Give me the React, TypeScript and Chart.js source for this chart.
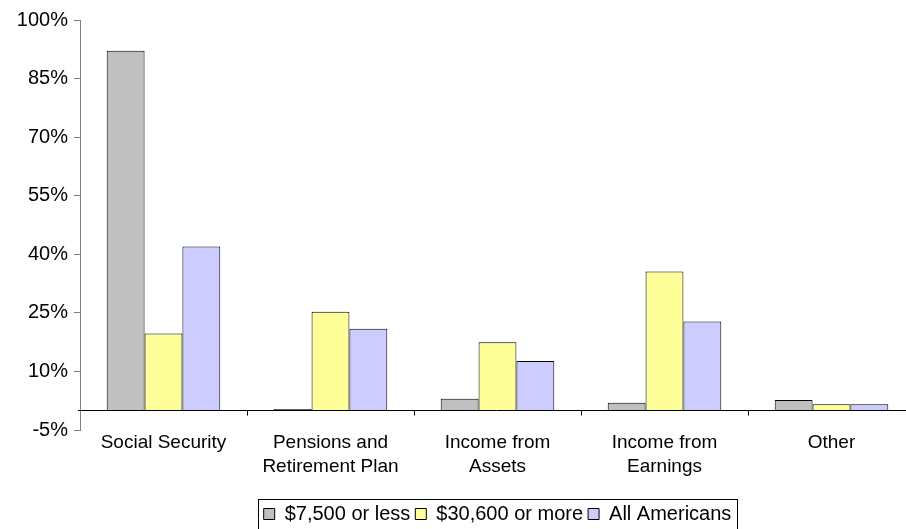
import React, { useEffect, useRef } from "react";
import { Chart, registerables } from "chart.js";

Chart.register(...registerables);

const categories: (string | string[])[] = [
  "Social Security",
  ["Pensions and", "Retirement Plan"],
  ["Income from", "Assets"],
  ["Income from", "Earnings"],
  "Other",
];
const seriesNames = ["$7,500 or less", "$30,600 or more", "All Americans"];
const lowIncome = [92.1, 0.4, 3.0, 2.0, 2.7];
const highIncome = [19.7, 25.3, 17.5, 35.6, 1.6];
const allAmericans = [42.0, 20.9, 12.7, 22.8, 1.6];
const yMin = -5;
const yMax = 100;
const yStep = 15;

const FONT = "'Liberation Sans', Arial, sans-serif";

export default function App() {
  const ref = useRef<HTMLCanvasElement | null>(null);

  useEffect(() => {
    const canvas = ref.current;
    if (!canvas) return;

    const zeroLinePlugin = {
      id: "zeroLine",
      afterLayout(chart: any) {
        const lg = chart.legend;
        const ca = chart.chartArea;
        if (lg && ca) {
          lg.left = ca.left;
          lg.right = ca.right;
          lg.width = ca.right - ca.left;
          lg.top += 5;
          lg.bottom += 5;
          if (typeof lg.adjustHitBoxes === "function") lg.adjustHitBoxes();
        }
      },
      afterDatasetsDraw(chart: any) {
        const { ctx, chartArea, scales } = chart;
        const y0 = Math.round(scales.y.getPixelForValue(0)) + 0.5;
        ctx.save();
        ctx.strokeStyle = "#000000";
        ctx.lineWidth = 1;
        ctx.beginPath();
        ctx.moveTo(chartArea.left - 2, y0);
        ctx.lineTo(chartArea.right, y0);
        for (let i = 1; i <= categories.length; i++) {
          const x = Math.round(scales.x.getPixelForValue(i - 0.5)) + 0.5;
          ctx.moveTo(x, y0);
          ctx.lineTo(x, y0 + 5);
        }
        ctx.stroke();
        ctx.restore();
      },
      afterDraw(chart: any) {
        const lg = chart.legend;
        if (!lg || !lg.legendHitBoxes || !lg.legendHitBoxes.length) return;
        const boxes = lg.legendHitBoxes;
        const first = boxes[0];
        const last = boxes[boxes.length - 1];
        const ctx = chart.ctx;
        ctx.save();
        ctx.strokeStyle = "#000000";
        ctx.lineWidth = 1;
        const l = Math.round(first.left - 6) + 0.5;
        const r = Math.round(last.left + last.width + 6) + 0.5;
        const t = Math.round(lg.top) + 0.5;
        ctx.strokeRect(l, t, r - l, 40);
        ctx.restore();
      },
    };

    const chart = new Chart(canvas, {
      type: "bar",
      data: {
        labels: categories as any,
        datasets: [
          {
            label: seriesNames[0],
            data: lowIncome,
            backgroundColor: "#C0C0C0",
            borderColor: "#000000",
            borderWidth: 1,
          },
          {
            label: seriesNames[1],
            data: highIncome,
            backgroundColor: "#FFFF99",
            borderColor: "#000000",
            borderWidth: 1,
          },
          {
            label: seriesNames[2],
            data: allAmericans,
            backgroundColor: "#CCCCFF",
            borderColor: "#000000",
            borderWidth: 1,
          },
        ],
      },
      plugins: [zeroLinePlugin],
      options: {
        responsive: false,
        animation: false,
        devicePixelRatio: 1,
        layout: { padding: { top: 20, right: 1, left: 0, bottom: 0 } },
        datasets: {
          bar: { categoryPercentage: 0.68, barPercentage: 1 },
        },
        plugins: {
          tooltip: { enabled: false },
          legend: {
            position: "bottom",
            align: "center",
            labels: {
              font: { family: FONT, size: 20 },
              color: "#000000",
              boxWidth: 11,
              boxHeight: 11,
              padding: 5,
            },
          },
        },
        scales: {
          x: {
            grid: { display: false },
            border: { display: false },
            ticks: {
              font: { family: FONT, size: 19, lineHeight: 1.3 },
              color: "#000000",
              padding: -8,
              maxRotation: 0,
              autoSkip: false,
            },
            afterFit(scale: any) {
              scale.height = 64;
            },
          },
          y: {
            min: yMin,
            max: yMax,
            ticks: {
              stepSize: yStep,
              font: { family: FONT, size: 20 },
              color: "#000000",
              padding: 6,
              callback: (v: any) => `${v}%`,
            },
            grid: {
              display: true,
              drawOnChartArea: false,
              drawTicks: true,
              tickLength: 6,
              color: "#808080",
            },
            border: { display: true, color: "#808080" },
            afterFit(scale: any) {
              scale.width = 80;
            },
          },
        },
      },
    });

    return () => chart.destroy();
  }, []);

  return (
    <div
      style={{
        position: "absolute",
        left: 0,
        top: 0,
        width: 906,
        height: 529,
        overflow: "hidden",
        background: "#ffffff",
      }}
    >
      <canvas ref={ref} width={916} height={529} style={{ display: "block" }} />
    </div>
  );
}
